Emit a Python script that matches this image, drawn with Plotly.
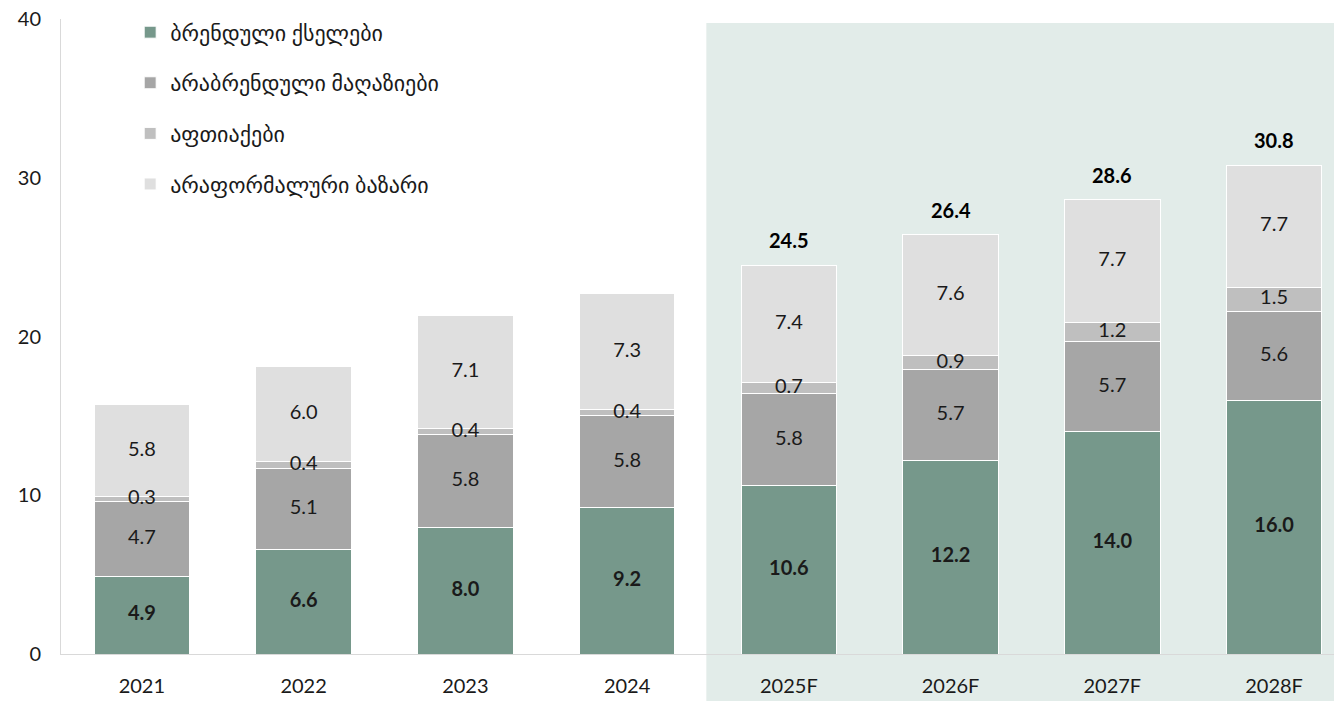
import plotly.graph_objects as go

years = ["2021", "2022", "2023", "2024", "2025F", "2026F", "2027F", "2028F"]
branded = [4.9, 6.6, 8.0, 9.2, 10.6, 12.2, 14.0, 16.0]
nonbranded = [4.7, 5.1, 5.8, 5.8, 5.8, 5.7, 5.7, 5.6]
pharmacies = [0.3, 0.4, 0.4, 0.4, 0.7, 0.9, 1.2, 1.5]
informal = [5.8, 6.0, 7.1, 7.3, 7.4, 7.6, 7.7, 7.7]
totals = [15.7, 18.1, 21.2, 22.7, 24.5, 26.4, 28.6, 30.8]

names = ["ბრენდული ქსელები", "არაბრენდული მაღაზიები", "აფთიაქები", "არაფორმალური ბაზარი"]
colors = ["#76988B", "#A6A6A6", "#BFBFBF", "#DFDFDF"]
series = [branded, nonbranded, pharmacies, informal]

FONT = "Lato, 'DejaVu Sans', sans-serif"
TXT = "#1a1a1a"

fig = go.Figure()
for i, (nm, col, vals) in enumerate(zip(names, colors, series)):
    fig.add_trace(go.Bar(
        x=years, y=vals, name=nm,
        marker=dict(color=col, line=dict(color="white", width=1)),
        legendgroup=f"g{i}",
        hoverinfo="skip",
    ))

# segment value labels drawn on top of all bars
base = [0.0] * len(years)
for i, vals in enumerate(series):
    mids = [b + v / 2 for b, v in zip(base, vals)]
    fig.add_trace(go.Scatter(
        x=years, y=mids, mode="text",
        text=[(f"<b>{v:.1f}</b>" if i == 0 else f"{v:.1f}") for v in vals],
        textposition="middle center",
        textfont=dict(family=FONT, size=20, color=TXT),
        showlegend=False, hoverinfo="skip", cliponaxis=False,
    ))
    base = [b + v for b, v in zip(base, vals)]

for yr, t in zip(years, totals):
    fig.add_annotation(x=yr, y=t, text=f"<b>{t:.1f}</b>", showarrow=False,
                       yanchor="bottom", yshift=11,
                       font=dict(family=FONT, size=20, color="#000"))

fig.add_shape(type="rect", xref="x", yref="paper", x0=3.49, x1=7.6,
              y0=-0.12, y1=0.9937, fillcolor="#E2ECE9", line=dict(width=0),
              layer="below")

fig.update_layout(
    barmode="stack",
    bargap=0.41,
    width=1342, height=701,
    margin=dict(l=53, r=8, t=11, b=55, autoexpand=False),
    paper_bgcolor="white", plot_bgcolor="rgba(0,0,0,0)",
    font=dict(family=FONT, size=19, color=TXT),
    showlegend=True,
    legend=dict(x=0.054, y=1.012, xanchor="left", yanchor="top",
                traceorder="grouped", tracegroupgap=19,
                font=dict(family=FONT, size=22, color=TXT),
                bgcolor="rgba(0,0,0,0)"),
    xaxis=dict(range=[-0.5, 7.42], showline=True, linecolor="#D9D9D9", linewidth=1,
               showgrid=False, ticks="", ticklabelstandoff=14, automargin=False,
               tickfont=dict(family=FONT, size=20, color=TXT)),
    yaxis=dict(range=[0, 40], dtick=10, showline=True, linecolor="#D9D9D9", linewidth=1,
               showgrid=False, zeroline=False, ticks="", ticklabelstandoff=15,
               automargin=False, ticklabeloverflow="allow",
               tickfont=dict(family=FONT, size=20, color=TXT)),
)

fig.write_html("out.html")
